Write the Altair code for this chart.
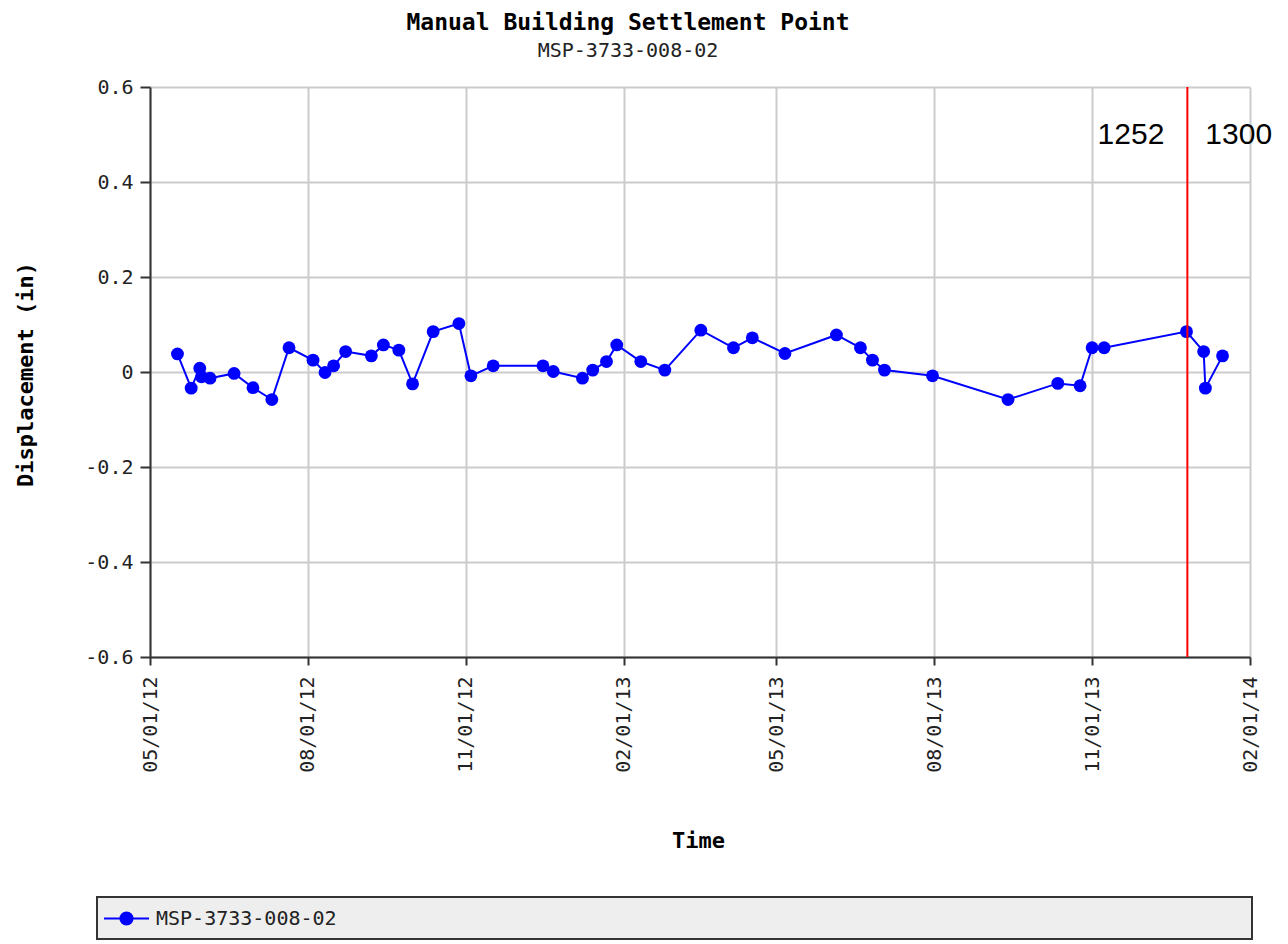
import altair as alt
import pandas as pd

# ---- data ----
series_name = "MSP-3733-008-02"
dates = [
    "2012-05-17", "2012-05-25", "2012-05-30", "2012-05-31", "2012-06-05", "2012-06-19", "2012-06-30", "2012-07-11", "2012-07-21",
    "2012-08-04", "2012-08-11", "2012-08-16", "2012-08-23", "2012-09-07", "2012-09-14", "2012-09-23", "2012-10-01", "2012-10-13", "2012-10-28",
    "2012-11-04", "2012-11-17", "2012-12-16", "2012-12-22", "2013-01-08", "2013-01-14", "2013-01-22", "2013-01-28", "2013-02-11", "2013-02-25",
    "2013-03-18", "2013-04-06", "2013-04-17", "2013-05-06", "2013-06-05", "2013-06-19", "2013-06-26", "2013-07-03", "2013-07-31",
    "2013-09-13", "2013-10-12", "2013-10-25", "2013-11-01", "2013-11-08", "2013-12-26", "2014-01-05", "2014-01-06", "2014-01-16",
]
values = [
    0.038, -0.034, 0.008, -0.010, -0.013, -0.003, -0.033, -0.058, 0.051,
    0.025, -0.001, 0.013, 0.043, 0.034, 0.057, 0.046, -0.025, 0.085, 0.102,
    -0.008, 0.013, 0.013, 0.001, -0.013, 0.004, 0.022, 0.057, 0.022, 0.004,
    0.088, 0.051, 0.072, 0.039, 0.078, 0.051, 0.025, 0.004, -0.008,
    -0.058, -0.024, -0.029, 0.051, 0.051, 0.085, 0.043, -0.034, 0.034,
]
marker_date = ["2013-12-26T12:00:00"]
annot_labels = ["1252", "1300"]
annot_level = [0.5, 0.5]
y_ticks = [-0.6, -0.4, -0.2, 0, 0.2, 0.4, 0.6]
x_tick_dates = [(2012, 5), (2012, 8), (2012, 11), (2013, 2), (2013, 5), (2013, 8), (2013, 11), (2014, 2)]

MONO = "DejaVu Sans Mono"

df = pd.DataFrame({
    "date": [d + "T00:00:00" for d in dates],
    "disp": values,
    "series": [series_name] * len(dates),
})
marker_df = pd.DataFrame({"date": marker_date})
annot_df = pd.DataFrame({
    "date": marker_date * len(annot_labels),
    "disp": annot_level,
    "label": annot_labels,
})
box_df = pd.DataFrame({"box": [1]})

x_enc = alt.X(
    "date:T",
    title="Time",
    scale=alt.Scale(domain=[alt.DateTime(year=2012, month=5, date=1),
                            alt.DateTime(year=2014, month=2, date=1)]),
    axis=alt.Axis(
        values=[alt.DateTime(year=y, month=m, date=1) for y, m in x_tick_dates],
        format="%m/%d/%y",
        labelAngle=270,
        labelAlign="right",
        labelBaseline="middle",
        labelPadding=11,
        tickSize=8,
        titleY=183,
        titleX=548,
        titleBaseline="middle",
    ),
)
y_enc = alt.Y(
    "disp:Q",
    title="Displacement (in)",
    scale=alt.Scale(domain=[-0.6, 0.6], nice=False),
    axis=alt.Axis(
        values=y_ticks,
        labelExpr="abs(datum.value) < 1e-9 ? '0' : (datum.value < 0 ? '-' : '') + format(abs(datum.value), '.1f')",
        tickSize=10,
        labelPadding=7,
        titleAngle=270,
        titleX=-125,
        titleY=287,
        titleAlign="center",
        titleBaseline="middle",
    ),
)

legend_symbol = "M-1,0H1M-0.27,0A0.27,0.27,0,1,1,0.27,0A0.27,0.27,0,1,1,-0.27,0Z"
color_enc = alt.Color(
    "series:N",
    scale=alt.Scale(domain=[series_name], range=["#0000ff"]),
    legend=alt.Legend(
        title=None,
        orient="none",
        legendX=-47,
        legendY=808,
        symbolType=legend_symbol,
        symbolSize=2025,
        symbolStrokeWidth=2,
        symbolFillColor="#0000ff",
        symbolStrokeColor="#0000ff",
        labelFont=MONO,
        labelFontSize=20,
        labelColor="#222222",
        labelOffset=6,
        labelLimit=600,
        padding=0,
    ),
)

box = alt.Chart(box_df).mark_rect(fill="#eeeeee", stroke="#333333", strokeWidth=2).encode(
    x=alt.value(-53), x2=alt.value(1102), y=alt.value(810), y2=alt.value(852)
)
line = alt.Chart(df).mark_line(strokeWidth=2).encode(x=x_enc, y=y_enc, color=color_enc)
points = alt.Chart(df).mark_circle(size=165, opacity=1).encode(x=x_enc, y=y_enc, color=color_enc)
rule = alt.Chart(marker_df).mark_rule(color="#ff0000", strokeWidth=2).encode(x=x_enc)
text_left = alt.Chart(annot_df).transform_filter(
    alt.datum.label == annot_labels[0]
).mark_text(font="Liberation Sans", fontSize=30, align="right", baseline="middle", dx=-23, color="#000000").encode(
    x=x_enc, y=y_enc, text="label:N"
)
text_right = alt.Chart(annot_df).transform_filter(
    alt.datum.label == annot_labels[1]
).mark_text(font="Liberation Sans", fontSize=30, align="left", baseline="middle", dx=18, color="#000000").encode(
    x=x_enc, y=y_enc, text="label:N"
)

chart = alt.layer(box, line, points, rule, text_left, text_right).properties(
    width=1100,
    height=570,
    autosize=alt.AutoSizeParams(type="none"),
    padding={"left": 142, "top": 79, "right": 30, "bottom": 283},
    title=alt.TitleParams(
        text="Manual Building Settlement Point",
        subtitle=series_name,
        anchor="middle",
        dx=-72,
        font=MONO,
        fontSize=23,
        fontWeight="bold",
        color="#000000",
        subtitleFont=MONO,
        subtitleFontSize=20,
        subtitleColor="#222222",
        subtitlePadding=6,
        offset=16,
    ),
).configure_view(stroke=None).configure_axis(
    labelFont=MONO,
    labelFontSize=20,
    labelColor="#222222",
    titleFont=MONO,
    titleFontSize=22,
    titleFontWeight="bold",
    titleColor="#000000",
    domainColor="#333333",
    domainWidth=2,
    tickColor="#333333",
    tickWidth=2,
    gridColor="#cccccc",
    gridWidth=2,
    grid=True,
)

chart.save("out.html", embed_options={"renderer": "svg", "actions": False})
